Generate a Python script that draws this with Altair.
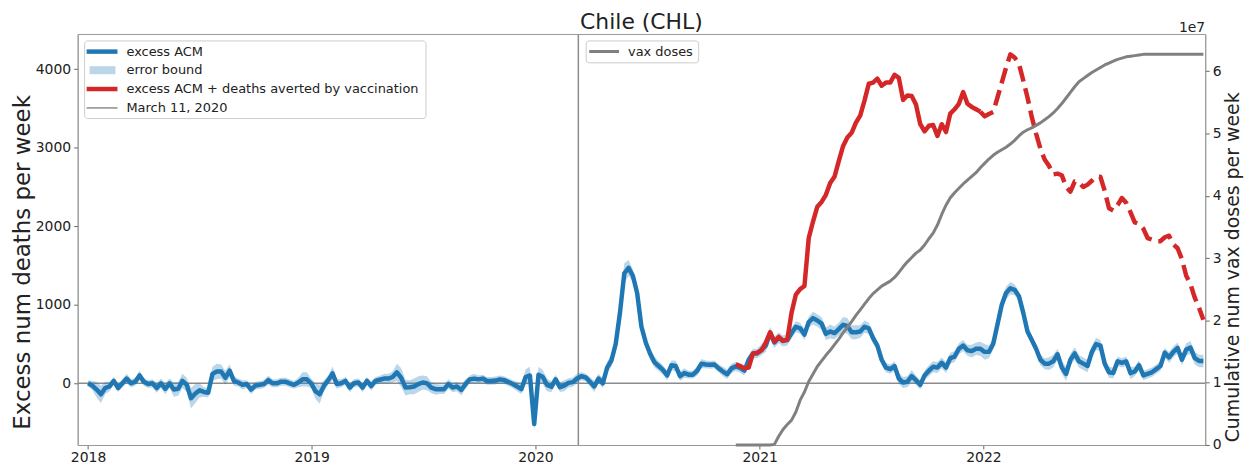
import altair as alt
import pandas as pd

# ---------------- data ----------------
years = [2018, 2019, 2020, 2021, 2022]
start_date = "2018-01-01"      # first weekly point
pandemic_date = "2020-03-11"

# excess all-cause mortality, deaths per week (weekly, starting 2018-01-01)
excess_2018 = [0, -30, -80, -140, -60, -40, 30, -60, 0, 60, 0, 20, 100, 20, -10, 0, -60, 0, -70, 0,
               -80, -70, 30, -20, -190, -130, -90, -110, -120, 120, 150, 150, 70, 160, 30, 10, -20, -10,
               -80, -30, -20, -10, 40, 0, 0, 20, 20, 0, -20, 10, 50, 50]
excess_2019 = [0, -100, -140, -30, 40, 125, -10, 0, 30, -55, 0, 10, -55, 30, -35, 30, 45, 60, 60, 80,
               140, 70, -55, -50, -40, -10, 10, 0, -55, -75, -75, -75, -10, -55, -40, -85, -10, 50, 60,
               50, 60, 30, 30, 35, 50, 40, 15, -10, -40, -75, 80, 100]
excess_2020 = [-520, 110, 80, -20, -45, 50, -50, -30, 5, 15, 60, 90, 75, 20, -40, 60, 0, 200, 290, 500,
               900, 1400, 1470, 1370, 1150, 720, 520, 380, 270, 220, 170, 100, 230, 220, 90, 130, 110,
               110, 160, 250, 240, 235, 240, 190, 150, 115, 190, 215, 195, 160, 300, 380]
excess_2021 = [380, 430, 480, 640, 520, 580, 540, 550, 640, 720, 700, 620, 780, 830, 800, 760, 630, 660,
               640, 690, 745, 730, 650, 650, 660, 720, 700, 575, 480, 300, 200, 180, 220, 60, 10, 20, 90,
               40, -20, 100, 160, 210, 200, 260, 200, 320, 340, 440, 480, 420, 410, 440]
excess_2022 = [440, 400, 400, 500, 750, 1000, 1150, 1210, 1190, 1110, 900, 660, 550, 440, 300, 250, 250,
               280, 370, 200, 120, 300, 380, 280, 250, 220, 400, 500, 480, 250, 140, 130, 280, 260, 280,
               130, 150, 230, 100, 120, 140, 180, 220, 390, 330, 400, 450, 300, 430, 455, 320, 285, 285]

# half width of the error bound
err_2018 = [40, 60, 100, 110, 80, 60, 50, 50, 50, 60, 50, 50, 60, 50, 50, 50, 60, 60, 70, 60,
            90, 90, 90, 90, 130, 120, 90, 60, 60, 90, 100, 90, 90, 80, 60, 50, 60, 50, 60, 50,
            50, 50, 60, 50, 50, 50, 50, 50, 50, 60, 90, 90]
err_2019 = [60, 100, 120, 70, 60, 90, 60, 50, 50, 60, 50, 50, 60, 50, 60, 50, 50, 60, 60, 70,
            110, 120, 100, 90, 100, 100, 90, 90, 70, 70, 60, 60, 60, 60, 60, 70, 60, 50, 60, 50,
            50, 50, 50, 50, 50, 50, 50, 50, 60, 60, 100, 110]
err_2020 = [80, 100, 90, 80, 70, 60, 60, 70, 60, 60, 60, 50, 50, 60, 70, 60, 60, 70, 80, 100,
            120, 130, 100, 80, 70, 70, 70, 70, 70, 60, 60, 60, 60, 70, 60, 60, 50, 50, 60, 60,
            50, 50, 50, 50, 60, 60, 60, 60, 60, 60, 60, 60]
err_2021 = [60, 70, 80, 80, 70, 70, 70, 70, 70, 70, 70, 70, 70, 80, 80, 80, 80, 90, 80, 80,
            100, 100, 90, 90, 80, 80, 70, 70, 60, 60, 60, 60, 60, 70, 70, 70, 80, 60, 60, 60,
            70, 70, 70, 70, 70, 70, 70, 70, 70, 70, 80, 80]
err_2022 = [90, 100, 80, 70, 70, 80, 80, 80, 70, 60, 60, 60, 60, 60, 70, 70, 80, 80, 70, 80,
            90, 80, 80, 80, 80, 80, 80, 80, 70, 70, 70, 70, 60, 60, 60, 80, 60, 60, 60, 60,
            60, 60, 60, 60, 70, 70, 70, 70, 80, 80, 80, 80, 80]

# excess ACM + deaths averted by vaccination (from late Nov 2020)
averted_2020 = [240, 220, 190, 200, 380]
averted_2021 = [390, 420, 520, 650, 530, 590, 540, 555, 900, 1130, 1200, 1240, 1850, 2060, 2250, 2310,
                2400, 2550, 2630, 2830, 3020, 3130, 3190, 3320, 3410, 3600, 3815, 3830, 3880, 3790, 3830,
                3830, 3930, 3890, 3610, 3665, 3660, 3550, 3300, 3210, 3280, 3290, 3150, 3300, 3200, 3435,
                3490, 3560, 3710, 3560, 3520, 3490]
averted_2022 = [3460, 3400, 3430, 3455, 3640, 3830, 4020, 4190, 4150, 4070, 3860, 3640, 3390, 3180, 2990,
                2850, 2770, 2660, 2670, 2650, 2500, 2440, 2570, 2560, 2500, 2530, 2580, 2630, 2630, 2450,
                2230, 2200, 2270, 2360, 2300, 2180, 2050, 2030, 1970, 1850, 1830, 1810, 1810, 1860, 1880,
                1770, 1720, 1580, 1370, 1260, 1090, 960, 810]

# cumulative vaccine doses, in units of 1e7
vax_2020 = [0, 0, 0, 0, 0]
vax_2021 = [0, 0, 0, 0, 0.01, 0.14, 0.25, 0.33, 0.40, 0.53, 0.72, 0.85, 1.02, 1.14, 1.26, 1.35, 1.44,
            1.52, 1.61, 1.70, 1.80, 1.89, 1.98, 2.08, 2.17, 2.26, 2.35, 2.43, 2.49, 2.55, 2.59, 2.63,
            2.69, 2.77, 2.86, 2.94, 3.01, 3.08, 3.13, 3.21, 3.31, 3.40, 3.53, 3.70, 3.85, 3.97, 4.05,
            4.12, 4.19, 4.25, 4.31, 4.37]
vax_2022 = [4.45, 4.52, 4.59, 4.65, 4.70, 4.74, 4.78, 4.83, 4.89, 4.96, 5.02, 5.06, 5.09, 5.13, 5.17,
            5.22, 5.27, 5.33, 5.40, 5.48, 5.57, 5.66, 5.75, 5.83, 5.88, 5.93, 5.98, 6.02, 6.06, 6.10,
            6.13, 6.16, 6.19, 6.21, 6.23, 6.24, 6.25, 6.26, 6.27, 6.27, 6.27, 6.27, 6.27, 6.27, 6.27,
            6.27, 6.27, 6.27, 6.27, 6.27, 6.27, 6.27, 6.27]

title_text = "Chile (CHL)"
left_title = "Excess num deaths per week"
right_title = "Cumulative num vax doses per week"
left_legend = ["excess ACM", "error bound", "excess ACM + deaths averted by vaccination", "March 11, 2020"]
right_legend = ["vax doses"]
offset_text = "1e7"

# ---------------- tables ----------------
excess = excess_2018 + excess_2019 + excess_2020 + excess_2021 + excess_2022
err = err_2018 + err_2019 + err_2020 + err_2021 + err_2022
dates = pd.date_range(start_date, periods=len(excess), freq="7D")
df = pd.DataFrame({
    "date": dates,
    "excess": excess,
    "lo": [v - e for v, e in zip(excess, err)],
    "hi": [v + e for v, e in zip(excess, err)],
})

averted = averted_2020 + averted_2021 + averted_2022
av_dates = dates[len(dates) - len(averted):]
n_solid = len(averted_2020) + len(averted_2021) + 1
df_av_solid = pd.DataFrame({"date": av_dates[:n_solid], "averted": averted[:n_solid]})
df_av_dash = pd.DataFrame({"date": av_dates[n_solid - 1:], "averted": averted[n_solid - 1:]})

vax = vax_2020 + vax_2021 + vax_2022
df_vax = pd.DataFrame({"date": dates[len(dates) - len(vax):], "vax": [v * 1e7 for v in vax]})

df_zero = pd.DataFrame({"v": [0]})
df_march = pd.DataFrame({"date": [pd.Timestamp(pandemic_date)]})
one = pd.DataFrame({"a": [0]})

# ---------------- styles ----------------
W, H = 1133, 413
FONT = "DejaVu Sans"
BLUE = "#1f77b4"
RED = "#d62728"
GRAY = "#808080"
REF = "#8c8c8c"
TXT = "#222222"

xscale = alt.Scale(domain=[alt.DateTime(year=2017, month=12, date=15),
                           alt.DateTime(year=2022, month=12, date=29)])
xaxis = alt.Axis(values=[alt.DateTime(year=y, month=1, date=1) for y in years], format="%Y",
                 title=None, labelFontSize=14, tickSize=4, labelPadding=2, grid=False)


def xenc(field):
    return alt.X(f"{field}:T", scale=xscale, axis=xaxis)


ylscale = alt.Scale(domain=[-786, 4449], nice=False, zero=False)
ylaxis = alt.Axis(values=[0, 1000, 2000, 3000, 4000], format="d", title=left_title, titleFontSize=23,
                  titleFontWeight="normal", labelFontSize=14, tickSize=4, labelPadding=3, grid=False,
                  titleX=-55, titleY=229, titleAngle=270, titleAlign="center", titleBaseline="middle")


def yl(field):
    return alt.Y(f"{field}:Q", scale=ylscale, axis=ylaxis)


yr = alt.Y("vax:Q", scale=alt.Scale(domain=[0, 6.597e7], nice=False, zero=True),
           axis=alt.Axis(orient="right", values=[i * 1e7 for i in range(7)],
                         labelExpr="datum.value / 10000000", title=right_title, titleFontSize=19,
                         titleFontWeight="normal", titleAngle=270, titleX=27, titleY=234,
                         titleAlign="center", titleBaseline="middle", labelFontSize=14, tickSize=4,
                         labelPadding=3, grid=False))

# ---------------- data layers ----------------
zero = alt.Chart(df_zero).mark_rule(color=REF, strokeWidth=1.5).encode(y=yl("v"))
march = alt.Chart(df_march).mark_rule(color=REF, strokeWidth=1.5).encode(x=xenc("date"))
band = alt.Chart(df).mark_area(color=BLUE, opacity=0.3).encode(x=xenc("date"), y=yl("lo"), y2="hi:Q")
blue = alt.Chart(df).mark_line(color=BLUE, strokeWidth=4.5, strokeJoin="round").encode(
    x=xenc("date"), y=yl("excess"))
red_solid = alt.Chart(df_av_solid).mark_line(color=RED, strokeWidth=4.5, strokeJoin="round").encode(
    x=xenc("date"), y=yl("averted"))
red_dash = alt.Chart(df_av_dash).mark_line(color=RED, strokeWidth=4.5, strokeJoin="round",
                                           strokeDash=[16, 7], strokeCap="butt").encode(
    x=xenc("date"), y=yl("averted"))
left_group = alt.layer(zero, march, band, blue, red_solid, red_dash)

vax_line = alt.Chart(df_vax).mark_line(color=GRAY, strokeWidth=3, strokeJoin="round").encode(
    x=xenc("date"), y=yr)


# ---------------- legends and texts (drawn by hand, matplotlib style) ----------------
def box(x1, y1, x2, y2):
    return alt.Chart(one).mark_rect(fill="white", fillOpacity=0.85, stroke="#cccccc", strokeWidth=1,
                                    cornerRadius=3).encode(
        x=alt.value(x1), x2=alt.value(x2), y=alt.value(y1), y2=alt.value(y2))


def key_line(x1, x2, y, color, w):
    return alt.Chart(one).mark_rule(color=color, strokeWidth=w).encode(
        x=alt.value(x1), x2=alt.value(x2), y=alt.value(y))


def key_patch(x1, x2, y1, y2, color, op):
    return alt.Chart(one).mark_rect(color=color, opacity=op).encode(
        x=alt.value(x1), x2=alt.value(x2), y=alt.value(y1), y2=alt.value(y2))


def label(x, y, text, size=13, align="left", baseline="middle"):
    return alt.Chart(one).mark_text(text=text, align=align, baseline=baseline, fontSize=size,
                                    font=FONT, color=TXT).encode(x=alt.value(x), y=alt.value(y))


rows = [17.7, 36.4, 55.3, 74.3]
leg = [box(7, 7, 350, 85),
       key_line(9, 40, rows[0], BLUE, 4.5),
       key_patch(12, 38, rows[1] - 4, rows[1] + 4, BLUE, 0.3),
       key_line(9, 40, rows[2], RED, 4.5),
       key_line(9, 40, rows[3], REF, 1.5)]
leg += [label(49, r, t) for r, t in zip(rows, left_legend)]
leg += [box(511, 7, 624, 29),
        key_line(514, 544, 17.6, GRAY, 3),
        label(553, 17.8, right_legend[0])]
leg += [label(W, -2, offset_text, size=14, align="right", baseline="alphabetic")]
leg += [label(W / 2, -12.5, title_text, size=22, align="center", baseline="middle")]

chart = alt.layer(left_group, vax_line, *leg).resolve_scale(y="independent").properties(
    width=W, height=H,
    padding={"left": 70, "top": 25, "right": 45, "bottom": 22},
    autosize=alt.AutoSizeParams(type="none"),
).configure_view(stroke="#999999", strokeWidth=1).configure_axis(
    domainColor="#999999", domainWidth=1, tickColor="#666666", labelColor=TXT, titleColor=TXT,
    labelFont=FONT, titleFont=FONT)

chart.save("out.html", embed_options={"renderer": "svg", "actions": False})
